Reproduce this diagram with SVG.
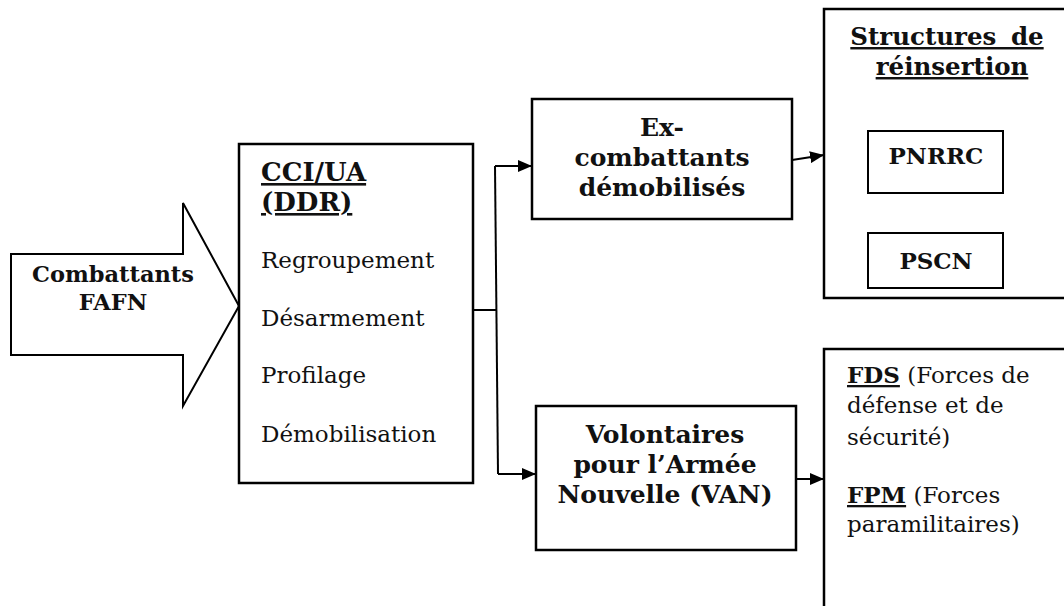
<svg xmlns="http://www.w3.org/2000/svg" width="1064" height="606" viewBox="0 0 1064 606">
<defs>
<marker id="ah" viewBox="0 0 14 12" refX="14" refY="6" markerWidth="14" markerHeight="12" markerUnits="userSpaceOnUse" orient="auto">
<path d="M0,0 L14,6 L0,12 z" fill="#000"/>
</marker>
</defs>
<style>
.box{fill:#fff;stroke:#000;stroke-width:2.5}
.sub{fill:#fff;stroke:#000;stroke-width:2}
.b{font-family:"DejaVu Serif","Liberation Serif",serif;font-weight:bold;font-size:23px;fill:#111}
.r{font-family:"DejaVu Serif","Liberation Serif",serif;font-size:23px;fill:#111}
.u{text-decoration:underline}
.c{text-anchor:middle}
.big{font-size:25px}
.con{fill:none;stroke:#000;stroke-width:2}
</style>
<rect width="1064" height="606" fill="#fff"/>

<g id="combattants">
<polygon class="sub" points="11,254 183,254 183,203 239,306 183,406 183,355 11,355"/>
<text class="b c" x="113" y="282" style="font-size:22.5px">Combattants</text>
<text class="b c" x="113" y="310" style="font-size:22.5px">FAFN</text>
</g>

<g id="cci">
<rect class="box" x="239" y="144" width="234" height="339"/>
<text class="b u" x="261" y="181" style="font-size:26px">CCI/UA</text>
<text class="b u" x="261" y="211" style="font-size:26px">(DDR)</text>
<text class="r" x="261" y="268">Regroupement</text>
<text class="r" x="261" y="326">Désarmement</text>
<text class="r" x="261" y="383">Profilage</text>
<text class="r" x="261" y="442">Démobilisation</text>
</g>

<g id="excombattants">
<rect class="box" x="532" y="99" width="260" height="120"/>
<text class="b c big" x="662" y="136">Ex-</text>
<text class="b c big" x="662" y="166">combattants</text>
<text class="b c big" x="662" y="196">démobilisés</text>
</g>

<g id="van">
<rect class="box" x="536" y="406" width="260" height="144"/>
<text class="b c big" x="665" y="443">Volontaires</text>
<text class="b c big" x="665" y="473">pour l’Armée</text>
<text class="b c big" x="665" y="503">Nouvelle (VAN)</text>
</g>

<g id="structures">
<path class="box" d="M1066,9 H824 V298 H1066"/>
<text class="b c u" x="947" y="45" style="font-size:24.5px;word-spacing:6px">Structures de</text>
<text class="b c u" x="952" y="75" style="font-size:24.5px">réinsertion</text>
</g>

<g id="pnrrc">
<rect class="sub" x="868" y="131" width="135" height="62"/>
<text class="b c" x="936" y="164">PNRRC</text>
</g>

<g id="pscn">
<rect class="sub" x="868" y="233" width="135" height="55"/>
<text class="b c" x="936" y="269">PSCN</text>
</g>

<g id="forces">
<path class="box" d="M1066,349 H824 V608"/>
<text class="r" x="847" y="383"><tspan class="b u">FDS</tspan> (Forces de</text>
<text class="r" x="847" y="413">défense et de</text>
<text class="r" x="847" y="445">sécurité)</text>
<text class="r" x="847" y="503"><tspan class="b u">FPM</tspan> (Forces</text>
<text class="r" x="847" y="532">paramilitaires)</text>
</g>

<g id="connectors">
<path class="con" d="M473,310 H496"/>
<path class="con" d="M495,166 L498,474"/>
<path class="con" d="M495,166 H532" marker-end="url(#ah)"/>
<path class="con" d="M498,474 H536" marker-end="url(#ah)"/>
<path class="con" d="M792,160 L824,155" marker-end="url(#ah)"/>
<path class="con" d="M796,479 H824" marker-end="url(#ah)"/>
</g>
</svg>
